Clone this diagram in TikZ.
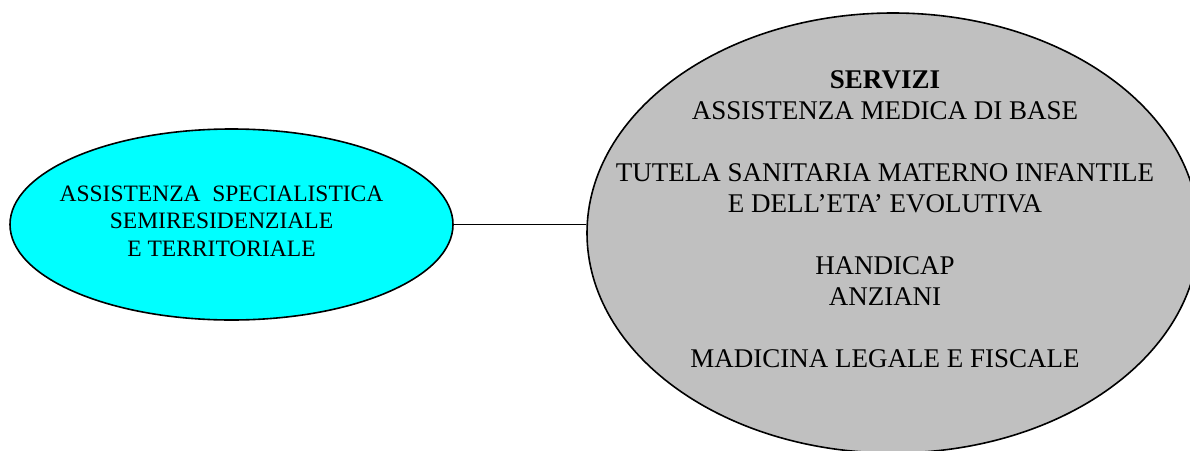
\documentclass[tikz,border=0pt]{standalone}
\usepackage{fontspec}
\setmainfont{Liberation Serif}
\usetikzlibrary{shapes.geometric}

\begin{document}
\begin{tikzpicture}[x=1pt,y=-1pt,
  bubble/.style={draw,shape=ellipse,line width=1.6pt,inner sep=0pt},
  words/.style={align=center,inner sep=0pt}]
\useasboundingbox (0,0) rectangle (1190,450);
\clip (0,0) rectangle (1190,450);

% the two ellipses
\path (231.5,224.5) node[bubble,fill={rgb,255:red,0;green,255;blue,255},minimum width=443pt,minimum height=191pt](e0){};
\path (893,233) node[bubble,fill={rgb,255:red,192;green,192;blue,192},minimum width=612pt,minimum height=440pt](e1){};
\draw[line width=1.6pt] (e0.east) -- (e0.east -| e1.west);

% texts
\path (221.5,221) node[words,font=\fontsize{23.5}{27.5}\selectfont](t0){ASSISTENZA\ \ SPECIALISTICA\\SEMIRESIDENZIALE\\E TERRITORIALE};
\path (885,219) node[words,font=\fontsize{27}{31}\selectfont](t1){\textbf{SERVIZI}\\ASSISTENZA MEDICA DI BASE\\[31pt]TUTELA SANITARIA MATERNO INFANTILE\\E DELL’ETA’ EVOLUTIVA\\[31pt]HANDICAP\\ANZIANI\\[31pt]MADICINA LEGALE E FISCALE};

\end{tikzpicture}
\end{document}
